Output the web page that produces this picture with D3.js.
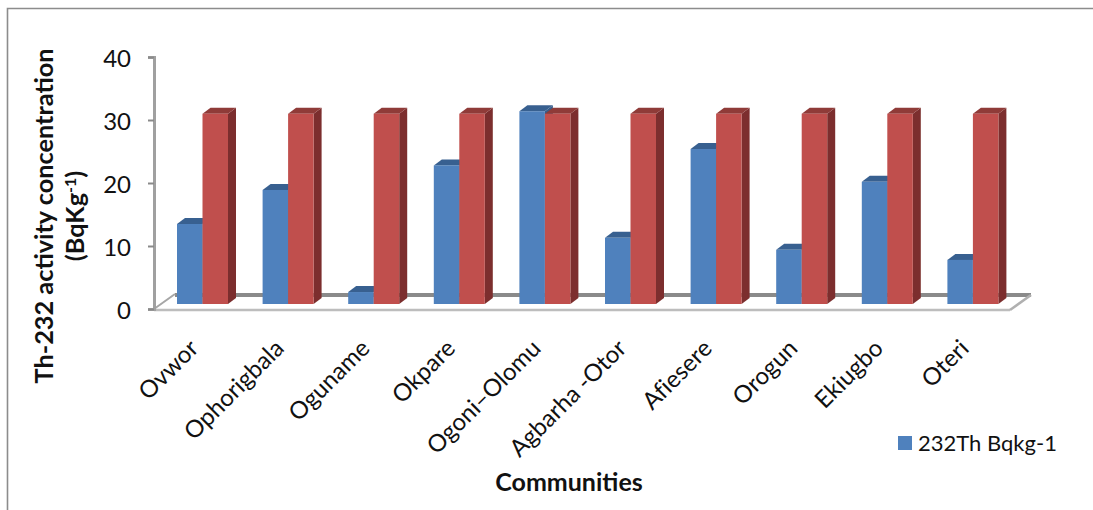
<!DOCTYPE html>
<html>
<head>
<meta charset="utf-8">
<script src="https://cdnjs.cloudflare.com/ajax/libs/d3/7.8.5/d3.min.js"></script>
<style>
html, body { margin: 0; padding: 0; background: #fff; }
svg { display: block; }
text { font-family: Lato, "Open Sans", sans-serif; fill: #111; }
</style>
</head>
<body>
<script>
// values
var communities = ['Ovwor', 'Ophorigbala', 'Oguname', 'Okpare', 'Ogoni\u2013Olomu', 'Agbarha -Otor', 'Afiesere', 'Orogun', 'Ekiugbo', 'Oteri']
var th232 = [12.7, 18.1, 1.9, 22, 30.6, 10.5, 24.6, 8.6, 19.4, 7]
var limit = [30.2, 30.2, 30.2, 30.2, 30.2, 30.2, 30.2, 30.2, 30.2, 30.2]
var yTicks = [0, 10, 20, 30, 40]

var width = 1093, height = 510
var depthX = 21, depthY = 15   // floor depth
var barDX = 8, barDY = 6       // bar depth
var barW = 25.5

var svg = d3.select('body').append('svg').attr('width', width).attr('height', height)

var defs = svg.append('defs')
defs.append('filter').attr('id', 'soft').append('feGaussianBlur').attr('stdDeviation', 0.6)

var x = d3.scaleBand().domain(communities).range([154, 1010])
var y = d3.scaleLinear().domain([0, 40]).range([309, 57])

// chart frame
svg.append('path').attr('d', 'M7.5,510V8.5H1093').attr('fill', 'none').attr('stroke', '#8c8c8c').attr('stroke-width', 1.6)

var plot = svg.append('g').attr('filter', 'url(#soft)')

// floor
var x0 = x.range()[0], x1 = x.range()[1], y0 = y(0)
plot.append('line').attr('x1', x0 + depthX).attr('x2', x1 + depthX).attr('y1', y0 - depthY + 1).attr('y2', y0 - depthY + 1).attr('stroke', '#8a8a8a').attr('stroke-width', 4)
plot.append('line').attr('x1', x0).attr('x2', x1).attr('y1', y0 + 1).attr('y2', y0 + 1).attr('stroke', '#bdbdbd').attr('stroke-width', 2.5)
plot.append('line').attr('x1', x0).attr('x2', x0 + depthX).attr('y1', y0).attr('y2', y0 - depthY).attr('stroke', '#a6a6a6').attr('stroke-width', 2)
plot.append('line').attr('x1', x1).attr('x2', x1 + depthX).attr('y1', y0 + 1).attr('y2', y0 - depthY + 1).attr('stroke', '#b0b0b0').attr('stroke-width', 2.5)

// y axis
var axis = svg.append('g').attr('transform', 'translate(' + x0 + ',0)')
	.call(d3.axisLeft(y).tickValues(yTicks).tickSize(6).tickPadding(17))
axis.select('.domain').attr('stroke', '#a0a0a0').attr('stroke-width', 3)
axis.selectAll('.tick line').attr('stroke', '#8a8a8a').attr('stroke-width', 2)
axis.selectAll('.tick text').style('font-size', '24px').style('font-family', 'Lato').attr('fill', '#111').attr('dy', '0.4em')

function drawBars(values, offset, front, top, side) {
	var g = plot.append('g')
	var d = communities.map(function (c, i) { return { c: c, v: values[i] } })
	function left(e) { return x(e.c) + 23 + offset }
	function base() { return y(0) - 5 }
	function up(e) { return y(e.v) - 5 }
	// side face
	g.selectAll('.side').data(d).enter().append('path').attr('fill', side)
		.attr('d', function (e) {
			var r = left(e) + barW
			return d3.line()([[r, up(e)], [r + barDX, up(e) - barDY], [r + barDX, base() - barDY], [r, base()]]) + 'Z'
		})
	// top face
	g.selectAll('.top').data(d).enter().append('path').attr('fill', top)
		.attr('d', function (e) {
			var l = left(e)
			return d3.line()([[l, up(e)], [l + barDX, up(e) - barDY], [l + barW + barDX, up(e) - barDY], [l + barW, up(e)]]) + 'Z'
		})
	g.selectAll('.front').data(d).enter().append('rect').attr('fill', front)
		.attr('x', left).attr('y', up).attr('width', barW)
		.attr('height', function (e) { return base() - up(e) })
}

drawBars(th232, 0, '#4f81bd', '#386090', '#385d8a')
drawBars(limit, barW, '#c0504d', '#8f3a38', '#7b2f2e')

// category labels
svg.append('g').selectAll('text').data(communities).enter().append('text')
	.attr('text-anchor', 'end')
	.attr('transform', function (d) { return 'translate(' + (x(d) + 34) + ',338) rotate(-45)' })
	.style('font-size', '24px')
	.style('font-variant-ligatures', 'none')
	.attr('dy', '0.7em')
	.text(function (d) { return d })

// axis titles
var yt = svg.append('text').attr('text-anchor', 'middle').attr('font-weight', 700).style('font-size', '25.3px')
	.attr('transform', 'translate(53,216) rotate(-90)')
yt.append('tspan').attr('x', 0).attr('y', 0).text('Th-232 activity concentration')
yt.append('tspan').attr('x', 0).attr('y', 31).text('(BqKg')
yt.append('tspan').attr('dy', -8).style('font-size', '16px').text('-1')
yt.append('tspan').attr('dy', 8).text(')')

svg.append('text').attr('x', 569).attr('y', 491).attr('text-anchor', 'middle').attr('font-weight', 700).style('font-size', '25px').text('Communities')

// legend
svg.append('rect').attr('x', 898).attr('y', 436).attr('width', 14).attr('height', 14).attr('fill', '#4f81bd')
svg.append('text').attr('x', 918).attr('y', 451).style('font-size', '22px').text('232Th Bqkg-1')
</script>
</body>
</html>
